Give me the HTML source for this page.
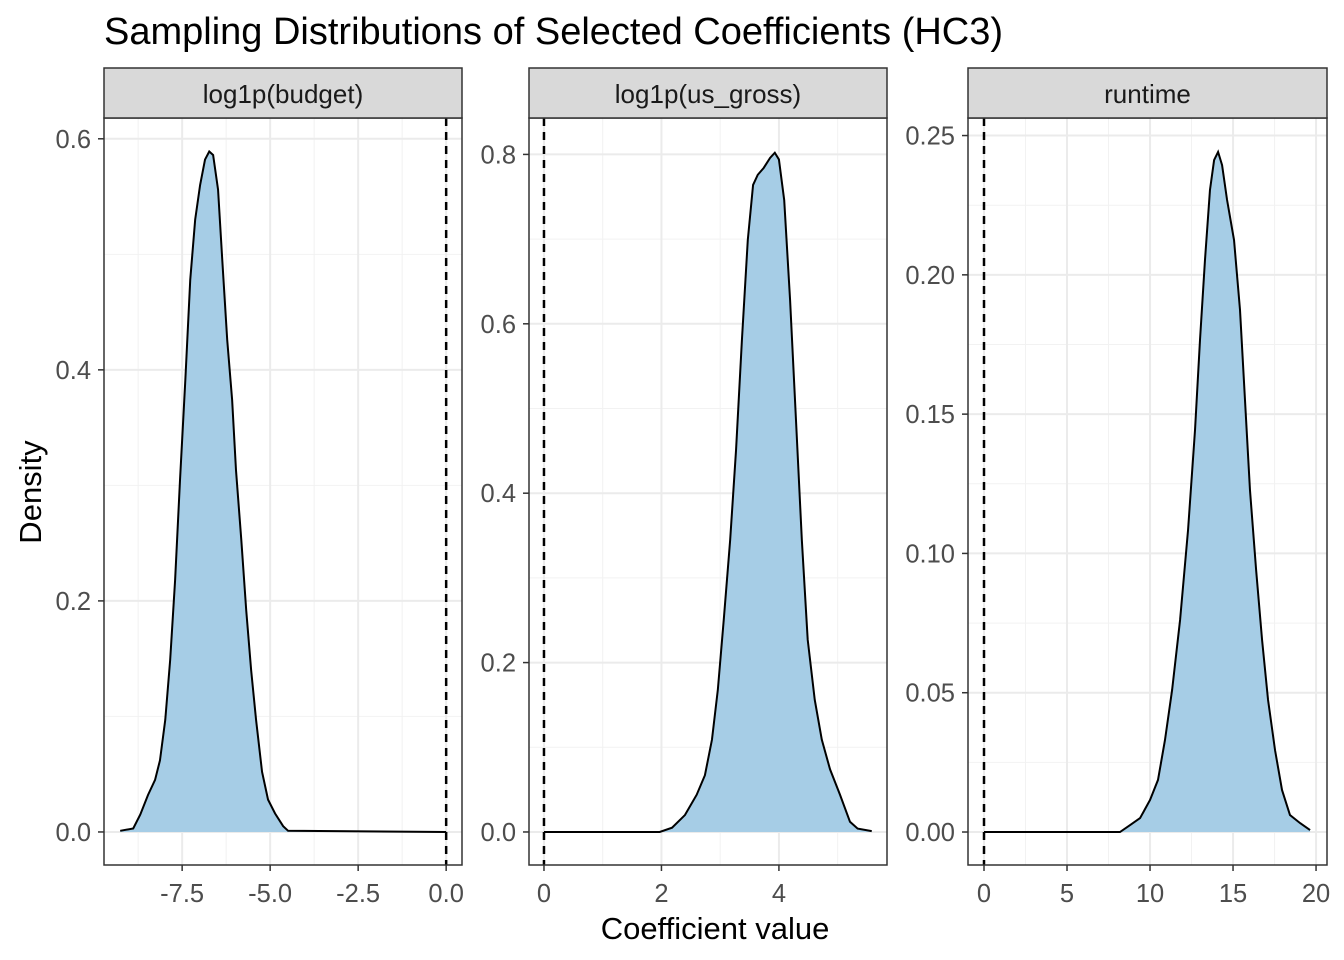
<!DOCTYPE html>
<html><head><meta charset="utf-8"><style>
body{margin:0;background:#fff;}
svg{display:block;font-family:"Liberation Sans",sans-serif;}
</style></head><body>
<svg id="chart" width="1344" height="960">
<text x="104" y="44" font-size="38" fill="#000">Sampling Distributions of Selected Coefficients (HC3)</text>
<text x="715" y="939" font-size="31" text-anchor="middle" fill="#000">Coefficient value</text>
<text transform="translate(41,492) rotate(-90)" font-size="31" text-anchor="middle" fill="#000">Density</text>
</svg>
<script>
const budgetX=[-9.26,-8.89,-8.69,-8.47,-8.27,-8.13,-7.98,-7.84,-7.70,-7.56,-7.41,-7.27,-7.13,-6.99,-6.85,-6.73,-6.62,-6.48,-6.36,-6.22,-6.08,-5.97,-5.82,-5.68,-5.54,-5.40,-5.23,-5.06,-4.86,-4.63,-4.49,0];
const budgetY=[0.001,0.003,0.015,0.032,0.045,0.062,0.097,0.149,0.218,0.305,0.391,0.478,0.530,0.560,0.582,0.589,0.586,0.556,0.495,0.426,0.374,0.313,0.253,0.192,0.140,0.097,0.052,0.028,0.016,0.005,0.001,0];
const grossX=[0,1.97,2.18,2.40,2.60,2.74,2.86,2.96,3.06,3.17,3.27,3.37,3.47,3.56,3.64,3.74,3.85,3.93,4.00,4.09,4.19,4.29,4.39,4.49,4.61,4.73,4.87,5.04,5.21,5.34,5.58];
const grossY=[0,0,0.005,0.020,0.044,0.067,0.109,0.168,0.250,0.345,0.451,0.581,0.699,0.764,0.776,0.784,0.796,0.802,0.794,0.746,0.628,0.487,0.345,0.227,0.156,0.109,0.074,0.044,0.012,0.004,0.001];
const runtimeX=[0,8.19,8.80,9.40,10.00,10.48,10.90,11.33,11.81,12.29,12.71,13.01,13.31,13.61,13.86,14.10,14.34,14.64,15.06,15.42,15.72,16.02,16.39,16.75,17.11,17.53,17.95,18.43,19.04,19.64];
const runtimeY=[0,0,0.0025,0.005,0.0115,0.0187,0.0330,0.0510,0.0761,0.1084,0.1443,0.1766,0.2053,0.2304,0.2412,0.2441,0.2394,0.2269,0.2125,0.1874,0.1551,0.1228,0.0941,0.0689,0.0474,0.0294,0.0151,0.0061,0.0032,0.0007];
const panelTitles=["log1p(budget)","log1p(us_gross)","runtime"];
const budgetXTicks=[-7.5,-5.0,-2.5,0.0], budgetXLabels=["-7.5","-5.0","-2.5","0.0"];
const budgetYTicks=[0,0.2,0.4,0.6], budgetYLabels=["0.0","0.2","0.4","0.6"];
const grossXTicks=[0,2,4], grossXLabels=["0","2","4"];
const grossYTicks=[0,0.2,0.4,0.6,0.8], grossYLabels=["0.0","0.2","0.4","0.6","0.8"];
const runtimeXTicks=[0,5,10,15,20], runtimeXLabels=["0","5","10","15","20"];
const runtimeYTicks=[0,0.05,0.10,0.15,0.20,0.25], runtimeYLabels=["0.00","0.05","0.10","0.15","0.20","0.25"];

const NS="http://www.w3.org/2000/svg";
const svgEl=document.getElementById('chart');
function mk(tag,attrs,parent){const e=document.createElementNS(NS,tag);for(const k in attrs)e.setAttribute(k,attrs[k]);(parent||svgEl).appendChild(e);return e;}

const panels=[
 {key:'budget',px0:104,px1:462,xmin:-9.72,xmax:0.45,ymin:-0.0286,ymax:0.618,xs:budgetX,ys:budgetY,xt:budgetXTicks,xl:budgetXLabels,yt:budgetYTicks,yl:budgetYLabels},
 {key:'us-gross',px0:529,px1:887,xmin:-0.255,xmax:5.84,ymin:-0.039,ymax:0.843,xs:grossX,ys:grossY,xt:grossXTicks,xl:grossXLabels,yt:grossYTicks,yl:grossYLabels},
 {key:'runtime',px0:968,px1:1327,xmin:-0.964,xmax:20.66,ymin:-0.01184,ymax:0.2563,xs:runtimeX,ys:runtimeY,xt:runtimeXTicks,xl:runtimeXLabels,yt:runtimeYTicks,yl:runtimeYLabels}
];
const pTop=118,pBot=865;
panels.forEach((p,i)=>{
 const sx=v=>p.px0+(v-p.xmin)/(p.xmax-p.xmin)*(p.px1-p.px0);
 const sy=v=>pBot-(v-p.ymin)/(p.ymax-p.ymin)*(pBot-pTop);
 const g=mk('g',{});
 
 
 const xs=p.xt, ys=p.yt;
 const dx=xs[1]-xs[0], dy=ys[1]-ys[0];
 for(let v=xs[0]-dx/2; v<=p.xmax; v+=dx){ if(v<p.xmin) continue; const l=mk('line',{x1:sx(v),x2:sx(v),y1:pTop,y2:pBot,stroke:'#f2f2f2','stroke-width':1},g);
  
  }
 for(let v=ys[0]+dy/2; v<=p.ymax; v+=dy){ const l=mk('line',{x1:p.px0,x2:p.px1,y1:sy(v),y2:sy(v),stroke:'#f2f2f2','stroke-width':1},g);
  
  }
 xs.forEach(v=>{const l=mk('line',{x1:sx(v),x2:sx(v),y1:pTop,y2:pBot,stroke:'#ebebeb','stroke-width':2},g);
  
  });
 ys.forEach(v=>{const l=mk('line',{x1:p.px0,x2:p.px1,y1:sy(v),y2:sy(v),stroke:'#ebebeb','stroke-width':2},g);
  
  });
 let d='M'+sx(p.xs[0])+','+sy(0);
 p.xs.forEach((x,k)=>{d+=' L'+sx(x)+','+sy(p.ys[k]);});
 d+=' L'+sx(p.xs[p.xs.length-1])+','+sy(0)+' Z';
 const area=mk('path',{d:d,fill:'#a6cde6',stroke:'none'},g);
 
 
 let ld='';
 p.xs.forEach((x,k)=>{ld+=(k?' L':'M')+sx(x)+','+sy(p.ys[k]);});
 const line=mk('path',{d:ld,fill:'none',stroke:'#000','stroke-width':2},g);
 
 
 const z=mk('line',{x1:sx(0),x2:sx(0),y1:pTop,y2:pBot,stroke:'#000','stroke-width':2.5,'stroke-dasharray':'8,6'},g);
 
 
 const fr=mk('rect',{x:p.px0,y:pTop,width:p.px1-p.px0,height:pBot-pTop,fill:'none',stroke:'#333','stroke-width':1.5},g);
 
 
 const st=mk('rect',{x:p.px0,y:68,width:p.px1-p.px0,height:50,fill:'#d9d9d9',stroke:'#333','stroke-width':1.5},g);
 
 
 const stt=mk('text',{x:(p.px0+p.px1)/2,y:103,'font-size':26,'text-anchor':'middle',fill:'#1a1a1a'},g);
 stt.textContent=panelTitles[i];
 
 
 xs.forEach((v,k)=>{
  mk('line',{x1:sx(v),x2:sx(v),y1:pBot,y2:pBot+6,stroke:'#333','stroke-width':1.5},g);
  const t=mk('text',{x:sx(v),y:pBot+37,'font-size':25.5,'text-anchor':'middle',fill:'#4d4d4d'},g);
  t.textContent=p.xl[k];
  
  
 });
 ys.forEach((v,k)=>{
  mk('line',{x1:p.px0-6,x2:p.px0,y1:sy(v),y2:sy(v),stroke:'#333','stroke-width':1.5},g);
  const t=mk('text',{x:p.px0-13,y:sy(v)+9,'font-size':25.5,'text-anchor':'end',fill:'#4d4d4d'},g);
  t.textContent=p.yl[k];
  
  
 });
});
</script>
</body></html>
